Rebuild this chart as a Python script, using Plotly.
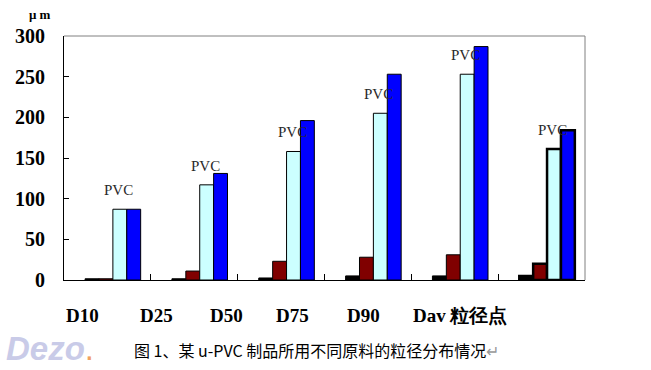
import plotly.graph_objects as go

categories = ["D10", "D25", "D50", "D75", "D90", "Dav"]
tick_labels = ["D10", "D25", "D50", "D75", "D90", "Dav 粒径点"]
series_black = [1.5, 1.5, 2.5, 5, 5, 5]
series_red = [1.5, 11, 23, 28, 31, 20]
series_cyan = [87, 117, 158, 205, 253, 161]
series_blue = [87, 131, 196, 253, 287, 184]
label_text = "PVC"
y_ticks = [0, 50, 100, 150, 200, 250, 300]

colors = ["#000000", "#800000", "#CCFFFF", "#0000FF"]
series = [series_black, series_red, series_cyan, series_blue]
names = ["s1", "s2", "s3", "s4"]
bw = 0.16
base_off = -0.257
line_w = [1, 1, 1, 1, 1, 2.5]

fig = go.Figure()
for i, (vals, col, nm) in enumerate(zip(series, colors, names)):
    fig.add_trace(go.Bar(
        x=categories, y=vals, name=nm,
        width=bw, offset=base_off + i * bw,
        marker=dict(color=col, line=dict(color="#000000", width=line_w)),
        showlegend=False,
    ))

for c, v in zip(categories, series_cyan):
    fig.add_annotation(x=c, y=v, text=label_text, showarrow=False,
                       xshift=11, yshift=19, yanchor="middle",
                       font=dict(family="Liberation Serif", size=15, color="#2a2a2a"))

# x tick labels as text boxes (offset from category positions as in original)
label_x = [82, 156, 226, 292, 363, 460]
for t, px in zip(tick_labels, label_x):
    fig.add_annotation(xref="paper", yref="paper", x=(px - 64) / 521, y=(279.6 - 315) / 243.6,
                       text="<b>" + t + "</b>", showarrow=False, xanchor="center", yanchor="middle",
                       font=dict(family="Liberation Serif", size=19, color="#000000"))

fig.add_annotation(xref="paper", yref="paper", x=(40 - 64) / 521, y=(279.6 - 15) / 243.6,
                   text="<b>μ m</b>", showarrow=False, xanchor="center", yanchor="middle",
                   font=dict(family="Liberation Serif", size=13, color="#000000"))

fig.add_annotation(xref="paper", yref="paper", x=(132 - 64) / 521, y=(279.6 - 349) / 243.6,
                   text="图 1、某 u-PVC 制品所用不同原料的粒径分布情况<span style='color:#999999'>↵</span>",
                   showarrow=False, xanchor="left", yanchor="middle",
                   font=dict(family="Noto Sans CJK SC", size=16, color="#000000"))

fig.add_annotation(xref="paper", yref="paper", x=(4 - 64) / 521, y=(279.6 - 348) / 243.6,
                   text="<b><i>Dezo</i></b><span style='color:#f0a060'>.</span>",
                   showarrow=False, xanchor="left", yanchor="middle",
                   font=dict(family="Liberation Sans", size=33, color="#c9cbe8"))

fig.add_shape(type="line", xref="paper", yref="paper", x0=0, x1=1, y0=1, y1=1,
              line=dict(color="#808080", width=1))
fig.add_shape(type="line", xref="paper", yref="paper", x0=1, x1=1, y0=0, y1=1,
              line=dict(color="#808080", width=1))

fig.update_layout(
    width=651, height=370,
    margin=dict(l=64, r=66, t=36, b=90),
    paper_bgcolor="white", plot_bgcolor="white",
    barmode="overlay",
    xaxis=dict(type="category", showticklabels=False, showline=True, linecolor="#000000",
               linewidth=1, ticks="inside", tickson="boundaries", ticklen=6,
               tickcolor="#000000", showgrid=False, zeroline=False,
               range=[-0.5, 5.5]),
    yaxis=dict(range=[0, 300], tickvals=y_ticks, showline=True, linecolor="#000000",
               linewidth=1, ticks="inside", ticklen=5, tickcolor="#000000",
               showgrid=False, zeroline=False, ticklabelstandoff=14,
               tickfont=dict(family="Liberation Serif", size=20, color="#000000", weight="bold")),
)

fig.write_html("out.html", config={"displayModeBar": False},
               post_script="document.body.style.margin='0';document.body.style.overflow='hidden';")
